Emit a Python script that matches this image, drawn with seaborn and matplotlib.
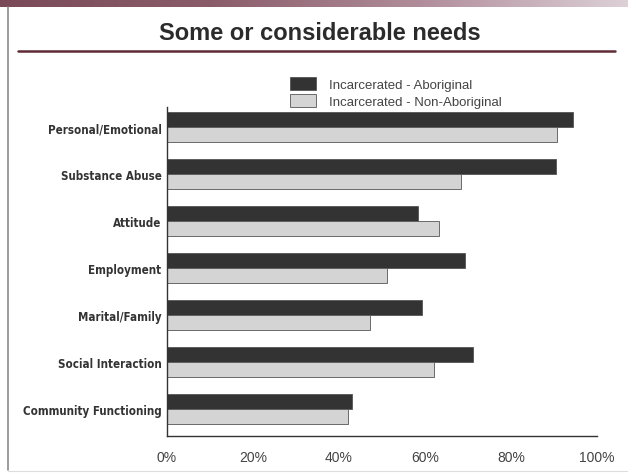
import numpy as np
import pandas as pd
import matplotlib
matplotlib.use("Agg")
import matplotlib.pyplot as plt
from matplotlib.lines import Line2D
from matplotlib.patches import Patch
from matplotlib.colors import LinearSegmentedColormap
import seaborn as sns

categories = ["Personal/Emotional", "Substance Abuse", "Attitude", "Employment",
              "Marital/Family", "Social Interaction", "Community Functioning"]
aboriginal = [94.4, 90.4, 58.3, 69.3, 59.2, 71.1, 43.1]
non_aboriginal = [90.6, 68.4, 63.3, 51.2, 47.1, 62.2, 42.1]
series_names = ["Incarcerated - Aboriginal", "Incarcerated - Non-Aboriginal"]
x_ticks = [0, 20, 40, 60, 80, 100]
x_tick_labels = ["0%", "20%", "40%", "60%", "80%", "100%"]

df = pd.DataFrame({
    "need": categories * 2,
    "pct": aboriginal + non_aboriginal,
    "group": [series_names[0]] * len(categories) + [series_names[1]] * len(categories),
})

sns.set_theme(style="white")
plt.rcParams["font.family"] = ["Liberation Sans", "DejaVu Sans"]

fig = plt.figure(figsize=(6.28, 4.77), dpi=100)
fig.patch.set_facecolor("white")

# header strip with a maroon gradient
band = fig.add_axes([0, 1 - 8 / 477, 1, 8 / 477])
grad = np.linspace(0, 1, 256)[None, :]
cmap = LinearSegmentedColormap.from_list("band", ["#7a4a58", "#8a5c6a", "#b08c99", "#ddd0d6"])
band.imshow(grad, aspect="auto", cmap=cmap, extent=[0, 1, 0, 1])
band.set_axis_off()

# frame lines around the panel
fig.add_artist(Line2D([8 / 628, 8 / 628], [1 - 8 / 477, 1 - 471 / 477],
                      color="#8a8a8a", lw=1.2, transform=fig.transFigure))
fig.add_artist(Line2D([8 / 628, 1], [1 - 472 / 477, 1 - 472 / 477],
                      color="#dddddd", lw=0.8, transform=fig.transFigure))

# title and rule
fig.text(320 / 628, 1 - 34 / 477, "Some or considerable needs", ha="center", va="center",
         fontsize=17, fontweight="bold", color="#2b2b2b")
fig.add_artist(Line2D([18 / 628, 615 / 628], [1 - 52 / 477, 1 - 52 / 477],
                      color="#5e2a35", lw=1.8, transform=fig.transFigure))

ax = fig.add_axes([167 / 628, 1 - 437 / 477, (597 - 167) / 628, (437 - 108) / 477])
sns.barplot(data=df, y="need", x="pct", hue="group", orient="h", ax=ax,
            palette=["#333333", "#d4d4d4"], width=0.64, edgecolor="#555555",
            linewidth=0.6, saturation=1, legend=False)

ax.set_xlim(0, 100)
ax.set_ylim(6.57, -0.43)
ax.set_xticks(x_ticks)
ax.set_xticklabels(x_tick_labels, fontsize=10, color="#444444")
ax.set_xlabel("")
ax.set_ylabel("")
ax.tick_params(axis="both", length=0)
ax.tick_params(axis="x", pad=10)
ax.tick_params(axis="y", pad=4)
for lbl in ax.get_yticklabels():
    lbl.set_family(["DejaVu Sans"])
    lbl.set_fontstretch("condensed")
    lbl.set_fontweight("bold")
    lbl.set_fontsize(8.3)
    lbl.set_color("#333333")
for side in ["top", "right"]:
    ax.spines[side].set_visible(False)
for side in ["left", "bottom"]:
    ax.spines[side].set_color("#333333")
    ax.spines[side].set_linewidth(1.0)
ax.set_facecolor("white")

# legend
handles = [Patch(facecolor="#333333", edgecolor="#555555", linewidth=0.6),
           Patch(facecolor="#d4d4d4", edgecolor="#555555", linewidth=0.6)]
fig.legend(handles, series_names, loc="upper left",
           bbox_to_anchor=(278 / 628, 1 - 66 / 477), frameon=False, fontsize=9.5,
           handlelength=2.0, handleheight=1.1, handletextpad=1.0, labelspacing=0.25,
           labelcolor="#444444")

fig.savefig("out.png", dpi=100, facecolor="white")
